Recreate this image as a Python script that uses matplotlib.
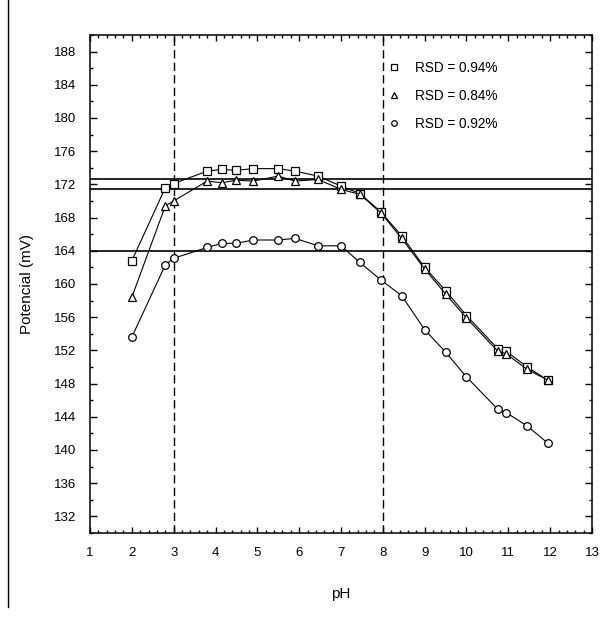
import matplotlib
matplotlib.use("Agg")
import matplotlib.pyplot as plt
from matplotlib.lines import Line2D
from matplotlib.ticker import MultipleLocator

plt.rcParams['font.family'] = ['Liberation Sans', 'DejaVu Sans']

ph = [2.0, 2.8, 3.0, 3.8, 4.15, 4.5, 4.9, 5.5, 5.9, 6.45, 7.0,
      7.45, 7.95, 8.45, 9.0, 9.5, 10.0, 10.75, 10.95, 11.45, 11.95]

pot_squares = [162.8, 171.6, 172.1, 173.6, 173.8, 173.7, 173.9, 173.9, 173.6, 173.0, 171.8,
               170.9, 168.7, 165.8, 162.0, 159.2, 156.2, 152.2, 151.9, 150.0, 148.4]
pot_triangles = [158.4, 169.4, 170.0, 172.4, 172.2, 172.5, 172.4, 173.0, 172.4, 172.6, 171.4,
                 170.8, 168.6, 165.5, 161.8, 158.8, 155.9, 151.9, 151.6, 149.7, 148.4]
pot_circles = [153.6, 162.3, 163.1, 164.4, 164.9, 164.9, 165.3, 165.3, 165.5, 164.6, 164.6,
               162.6, 160.5, 158.6, 154.5, 151.8, 148.8, 144.9, 144.5, 142.9, 140.8]

labels = ["RSD = 0.94%", "RSD = 0.84%", "RSD = 0.92%"]
h_lines = [172.6, 171.5, 164.0]
v_lines = [3, 8]

fig = plt.figure(figsize=(6.06, 6.28), dpi=100)
ax = fig.add_axes([90 / 606, 1 - 533 / 628, 502 / 606, 498 / 628])

for y in h_lines:
    ax.axhline(y, color='black', lw=1.2, zorder=1)
for x in v_lines:
    ax.axvline(x, color='black', lw=1.0, ls=(0, (6, 3)), zorder=1)

series = [(pot_squares, 's', 6), (pot_triangles, '^', 6), (pot_circles, 'o', 5.5)]
handles = []
for (vals, mk, ms), lab in zip(series, labels):
    ax.plot(ph, vals, color='black', lw=0.8, marker=mk, ms=ms,
            mfc='white', mec='black', mew=0.9, zorder=3)
    handles.append(Line2D([], [], ls='none', marker=mk, ms=4, mfc='white',
                          mec='black', mew=0.9))

ax.legend(handles, labels, loc='upper left', bbox_to_anchor=(0.568, 0.972),
          frameon=False, handlelength=1.0, handletextpad=1.05,
          labelspacing=1.02, fontsize=9.8)

ax.set_xlim(1, 13)
ax.set_ylim(130, 190)
ax.xaxis.set_major_locator(MultipleLocator(1))
ax.xaxis.set_minor_locator(MultipleLocator(0.2))
ax.set_yticks(range(132, 189, 4))
ax.yaxis.set_minor_locator(MultipleLocator(2))
ax.tick_params(which='both', direction='in', top=True, right=True,
               labelsize=9.5, width=1.0)
ax.tick_params(axis='y', which='major', length=5, pad=10)
ax.tick_params(axis='y', which='minor', length=2.5)
ax.tick_params(axis='x', which='major', length=4, pad=10)
ax.tick_params(axis='x', which='minor', length=2)
for s in ax.spines.values():
    s.set_linewidth(1.1)

ax.set_xlabel("pH", fontsize=11, labelpad=20)
ax.set_ylabel("Potencial (mV)", fontsize=11, labelpad=14)

fig.add_artist(Line2D([8 / 606, 8 / 606], [1 - 607 / 628, 1], color='black',
                      lw=1.0, transform=fig.transFigure))

fig.savefig("out.png", dpi=100, facecolor='white')
